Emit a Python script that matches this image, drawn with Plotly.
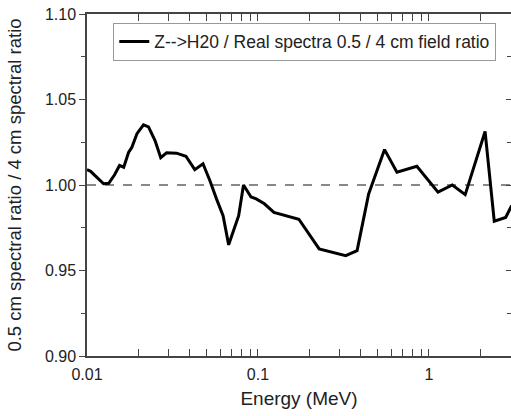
import math
import plotly.graph_objects as go

energy_mev = [0.0100, 0.0105, 0.0125, 0.0134, 0.0145, 0.0155, 0.0164, 0.0175, 0.0183,
              0.0196, 0.0214, 0.0229, 0.0250, 0.0270, 0.0292, 0.0334, 0.0379, 0.0427,
              0.0477, 0.0523, 0.0572, 0.0625, 0.0674, 0.0771, 0.0823, 0.0911, 0.0977,
              0.109, 0.124, 0.1735, 0.228, 0.326, 0.38, 0.444, 0.55, 0.65, 0.85, 1.13,
              1.37, 1.63, 2.13, 2.41, 2.81, 3.05]
ratio = [1.009, 1.008, 1.0007, 1.001, 1.006, 1.0114, 1.0104, 1.019, 1.022,
         1.030, 1.0352, 1.034, 1.026, 1.016, 1.0188, 1.0186, 1.0168, 1.009,
         1.0124, 1.0026, 0.9919, 0.9821, 0.965, 0.9821, 1.000, 0.993, 0.9919,
         0.989, 0.984, 0.980, 0.9626, 0.9587, 0.9616, 0.9948, 1.0207, 1.0075, 1.011, 0.9958,
         1.000, 0.9944, 1.0313, 0.9788, 0.981, 0.988]
series_name = "Z-->H20 / Real spectra 0.5 / 4 cm field ratio"
ref_value = 1.0
x_tick_vals = [0.01, 0.1, 1]
x_tick_text = ["0.01", "0.1", "1"]
y_tick_vals = [0.90, 0.95, 1.00, 1.05, 1.10]
y_tick_text = ["0.90", "0.95", "1.00", "1.05", "1.10"]

FONT = "Liberation Sans, Arial, sans-serif"
AX = "#444444"
TXT = "#222222"

fig = go.Figure()
fig.add_trace(go.Scatter(x=energy_mev, y=ratio, mode="lines", name=series_name,
                         line=dict(color="black", width=3), cliponaxis=True))
# invisible trace to activate right-side tick axis
fig.add_trace(go.Scatter(x=[energy_mev[0]], y=[ref_value], yaxis="y2", mode="markers",
                         marker=dict(opacity=0), showlegend=False, hoverinfo="skip"))

fig.add_shape(type="line", xref="paper", x0=0, x1=1, yref="y", y0=ref_value, y1=ref_value,
              line=dict(color="#888888", width=2, dash="dash"), layer="below")

yrange = [0.90, 1.10]
fig.update_layout(
    width=511, height=416,
    margin=dict(l=87, r=0, t=14, b=60),
    paper_bgcolor="white", plot_bgcolor="white",
    font=dict(family=FONT, size=16, color=TXT),
    showlegend=True,
    legend=dict(x=0.062, y=0.975, xanchor="left", yanchor="top",
                bordercolor="#999999", borderwidth=1, bgcolor="white",
                font=dict(family=FONT, size=17.5, color=TXT),
                tracegroupgap=0, itemwidth=30),
    xaxis=dict(type="log", range=[-2, 0.48],
               tickvals=x_tick_vals, ticktext=x_tick_text,
               ticks="inside", ticklen=7, tickwidth=1.3, tickcolor=AX,
               ticklabelstandoff=3,
               minor=dict(ticks="inside", ticklen=4, tickwidth=1.2, tickcolor=AX, showgrid=False,
                          dtick="D1"),
               showline=True, linecolor=AX, linewidth=1.5, mirror="allticks",
               showgrid=False, zeroline=False,
               title=dict(text="Energy (MeV)", font=dict(size=19, family=FONT, color=TXT), standoff=10),
               tickfont=dict(size=16, family=FONT, color=TXT)),
    yaxis=dict(range=yrange, tickvals=y_tick_vals, ticktext=y_tick_text,
               ticks="outside", ticklen=6, tickwidth=1.3, tickcolor=AX,
               minor=dict(ticks="outside", ticklen=4, tickwidth=1.2, tickcolor=AX, dtick=0.025, showgrid=False),
               showline=True, linecolor=AX, linewidth=1.5, mirror=False,
               showgrid=False, zeroline=False,
               title=dict(text="0.5 cm spectral ratio / 4 cm spectral ratio",
                          font=dict(size=18.5, family=FONT, color=TXT), standoff=18),
               tickfont=dict(size=16, family=FONT, color=TXT)),
    yaxis2=dict(range=yrange, overlaying="y", side="right", anchor="x",
                tickvals=y_tick_vals, showticklabels=False,
                ticks="inside", ticklen=5, tickwidth=1.3, tickcolor=AX,
                minor=dict(ticks="inside", ticklen=4, tickwidth=1.2, tickcolor=AX, dtick=0.025, showgrid=False),
                showline=False, showgrid=False, zeroline=False),
)

fig.write_html("out.html")
